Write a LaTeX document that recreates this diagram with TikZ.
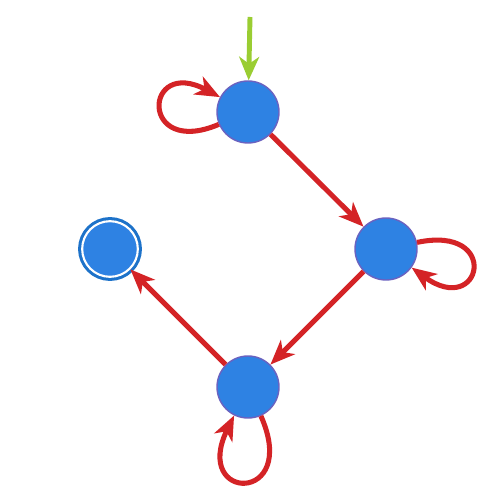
\documentclass[tikz,border=0pt]{standalone}
\usepackage{tikz}
\usetikzlibrary{arrows.meta,positioning}
\definecolor{stateblue}{HTML}{2E82E3}
\definecolor{rimpurple}{HTML}{6A62C0}
\definecolor{acceptblue}{HTML}{1D72C9}
\definecolor{edgered}{HTML}{D42326}
\definecolor{startgreen}{HTML}{9ACD32}
\tikzset{
	state/.style ={circle, fill=stateblue, draw=rimpurple, line width=1.2pt, minimum size=1.86cm, inner sep=0pt}, % plain state
	accepting/.style ={state, draw=white, line width=1.8pt, preaction={draw=acceptblue, line width=7pt}, minimum size=1.67cm}, % final state
	trans/.style={-{Stealth[length=21pt, width=17pt, inset=6pt]}, edgered, line width=4.3pt},
	init edge/.style={-{Stealth[length=20pt, width=17pt, inset=6pt]}, startgreen, line width=4.2pt}
}
\begin{document}
\begin{tikzpicture}
            \useasboundingbox (0,0) rectangle (14.7,14.58);
            \node[state] (1) at (7.44,11.22) {};
            \node[state] (2) at (11.58,7.11) {};
            \node[state] (3) at (7.44,2.97) {};
            \node[accepting] (4) at (3.3,7.11) {};
            \coordinate (0) at (7.5,14.07);
            \draw[init edge] (0) -- (1);
            \draw[trans] (1) -- (2);
            \draw[trans] (2) -- (3);
            \draw[trans] (3) -- (4);
            \draw[trans] (1) to[out=203, in=152, distance=2.6cm] (1);
            \draw[trans] (2) to[out=12, in=-36, distance=2.6cm] (2);
            \draw[trans] (3) to[out=-66, in=-116, distance=2.9cm] (3);
        \end{tikzpicture}
\end{document}
